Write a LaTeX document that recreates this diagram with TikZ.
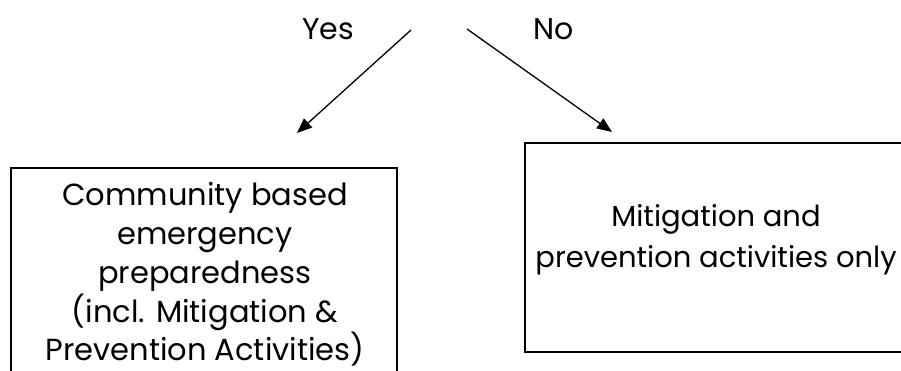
\documentclass[tikz,border=0pt]{standalone}
\usepackage{fontspec}
\setmainfont{Poppins}
\usetikzlibrary{arrows.meta}
\tikzset{
  box/.style={draw, line width=2pt, rectangle, inner sep=0pt},
  txt/.style={align=center, inner sep=0pt, font=\fontsize{30.5}{38.75}\selectfont},
  txtb/.style={align=center, inner sep=0pt, font=\fontsize{29}{41}\selectfont},
  lbl/.style={inner sep=0pt, font=\fontsize{30}{39}\selectfont},
  arr/.style={line width=1.3pt, -{Triangle[length=15pt,width=12pt]}}
}
\begin{document}
\begin{tikzpicture}[x=1pt,y=1pt]
\useasboundingbox (0,0) rectangle (901,371);
\clip (0,0) rectangle (901,371);
\node[box, minimum width=386pt, minimum height=240pt] (leftbox) at (204,83) {};
\node[box, minimum width=400pt, minimum height=209pt] (rightbox) at (725,123.5) {};
\node[txt, anchor=base] (lefttext) at (205,10) {Community based\\emergency\\preparedness\\(incl. Mitigation \&\\Prevention Activities)};
\node[txtb, anchor=base] (righttext) at (716,103) {Mitigation and\\prevention activities only};
\node[lbl, anchor=base] (yes) at (328,331) {Yes};
\node[lbl, anchor=base] (no) at (554,331) {No};
\coordinate (ys) at (411,341);
\coordinate (ye) at (297,238);
\coordinate (ns) at (467,342);
\coordinate (ne) at (612,239);
\draw[arr] (ys) -- (ye);
\draw[arr] (ns) -- (ne);
\end{tikzpicture}
\end{document}
